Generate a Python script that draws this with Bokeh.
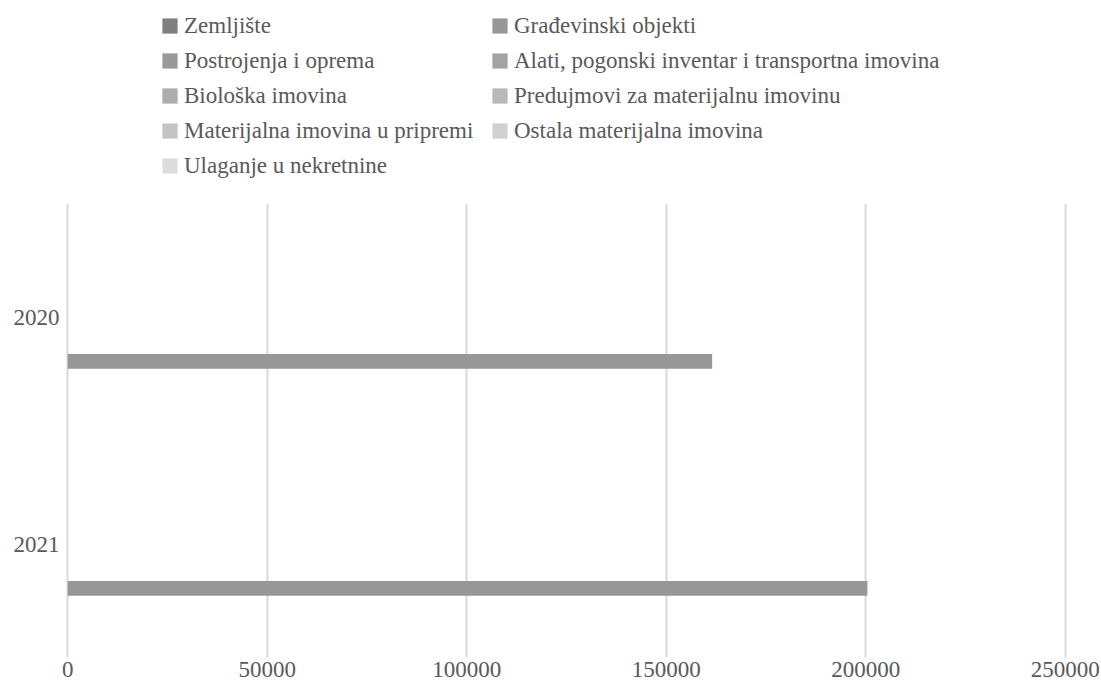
from bokeh.plotting import figure
from bokeh.layouts import column
from bokeh.models import FactorRange, Legend, LegendItem, BasicTickFormatter, FixedTicker, ColumnDataSource, Range1d
from bokeh.transform import dodge
from bokeh.embed import file_html
from bokeh.resources import INLINE

years = ["2020", "2021"]
series_names = [
    "Zemljište",
    "Građevinski objekti",
    "Postrojenja i oprema",
    "Alati, pogonski inventar i transportna imovina",
    "Biološka imovina",
    "Predujmovi za materijalnu imovinu",
    "Materijalna imovina u pripremi",
    "Ostala materijalna imovina",
    "Ulaganje u nekretnine",
]
zemljiste = [0, 0]
gradevinski = [161500, 200400]
postrojenja = [0, 0]
alati = [0, 0]
bioloska = [0, 0]
predujmovi = [0, 0]
u_pripremi = [0, 0]
ostala = [0, 0]
ulaganje = [0, 0]
series_values = [zemljiste, gradevinski, postrojenja, alati, bioloska,
                 predujmovi, u_pripremi, ostala, ulaganje]
colors = ["#7f7f7f", "#979797", "#999999", "#a3a3a3", "#acacac",
          "#b8b8b8", "#c4c4c4", "#d0d0d0", "#dcdcdc"]
x_ticks = [0, 50000, 100000, 150000, 200000, 250000]

FONT = "Liberation Serif"
TXT = "#595959"
FS = "23px"
W = 1100
H = 688
TOP_H = 180
LH = 27
SP = 8

data = {"year": years}
for i, v in enumerate(series_values):
    data[f"s{i}"] = v
src = ColumnDataSource(data)

w = 0.065


def draw_bars(fig):
    rs = []
    for i in range(len(series_names)):
        r = fig.hbar(y=dodge("year", (i - 4) * w, range=fig.y_range), left=0, right=f"s{i}",
                     height=w, source=src, fill_color=colors[i], line_color=None)
        rs.append(r)
    return rs


# main chart
p = figure(width=W, height=H - TOP_H, output_backend="svg", toolbar_location=None,
           y_range=FactorRange(factors=["2021", "2020"]), x_range=Range1d(-800, 250800),
           min_border_left=64, min_border_right=32, min_border_top=203 - TOP_H, min_border_bottom=31)
p.outline_line_color = None
p.background_fill_color = "white"
draw_bars(p)

p.xaxis.ticker = FixedTicker(ticks=x_ticks)
p.xaxis.formatter = BasicTickFormatter(use_scientific=False)
for ax in (p.xaxis[0], p.yaxis[0]):
    ax.axis_line_color = None
    ax.major_tick_line_color = None
    ax.minor_tick_line_color = None
    ax.major_tick_out = 0
    ax.major_tick_in = 0
    ax.major_label_text_font = FONT
    ax.major_label_text_font_size = FS
    ax.major_label_text_color = TXT
p.xaxis.major_label_standoff = 4
p.yaxis.major_label_standoff = 5

p.xgrid.grid_line_color = "#d9d9d9"
p.xgrid.grid_line_width = 2
p.xgrid.ticker = FixedTicker(ticks=x_ticks)
p.ygrid.grid_line_color = None

# legend strip above the chart
top = figure(width=W, height=TOP_H, output_backend="svg", toolbar_location=None,
             y_range=FactorRange(factors=["2021", "2020"]), x_range=Range1d(-800, 250800),
             x_axis_location=None, y_axis_location=None,
             min_border_left=0, min_border_right=0, min_border_top=0, min_border_bottom=0)
top.outline_line_color = None
top.xgrid.grid_line_color = None
top.ygrid.grid_line_color = None
legend_renderers = draw_bars(top)
for r in legend_renderers:
    r.visible = False

LEG_TOP = 12


def make_legend(idx, x):
    items = [LegendItem(label=series_names[i], renderers=[legend_renderers[i]]) for i in idx]
    n = len(idx)
    h = n * LH + (n - 1) * SP
    return Legend(items=items, location=(x, TOP_H - LEG_TOP - h), orientation="vertical",
                  padding=0, margin=0, spacing=SP, border_line_color=None,
                  background_fill_alpha=0, glyph_width=19, glyph_height=19,
                  label_height=LH, label_standoff=5,
                  label_text_font=FONT, label_text_font_size=FS, label_text_color=TXT)


top.add_layout(make_legend([0, 2, 4, 6, 8], 96), "center")
top.add_layout(make_legend([1, 3, 5, 7], 426), "center")

layout = column(top, p, spacing=0)
open("out.html", "w").write(file_html(layout, INLINE))
